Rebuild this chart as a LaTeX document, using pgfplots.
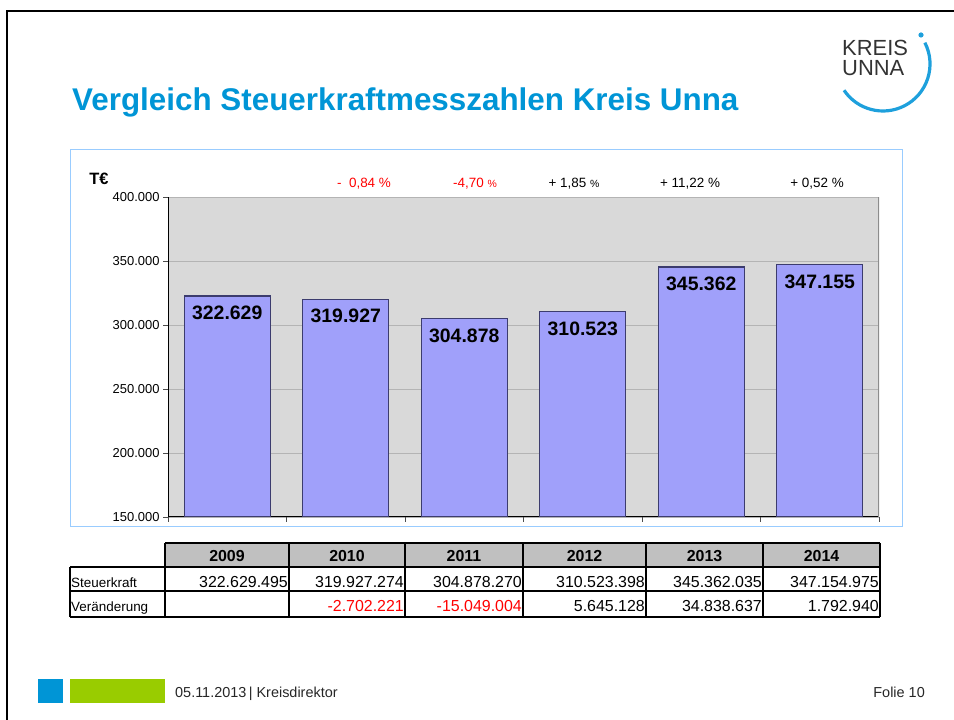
\documentclass[border=0pt]{standalone}
\usepackage{fontspec}
\setmainfont{Liberation Sans}
\usepackage{pgfplots}
\pgfplotsset{compat=1.18}

\definecolor{titleblue}{RGB}{0,149,214}
\definecolor{logoblue}{RGB}{30,160,220}
\definecolor{frameblue}{RGB}{153,204,255}
\definecolor{plotbg}{RGB}{217,217,217}
\definecolor{gridgrey}{RGB}{180,180,180}
\definecolor{barfill}{RGB}{160,160,250}
\definecolor{baredge}{RGB}{60,60,110}
\definecolor{headgrey}{RGB}{192,192,192}
\definecolor{footgreen}{RGB}{153,204,0}
\definecolor{negred}{RGB}{255,0,0}
\newcommand{\fs}[1]{\fontsize{#1}{#1}\selectfont}

\begin{document}
\begin{tikzpicture}
\begin{scope}[x=1bp,y=1bp]
\path[use as bounding box] (0,0) rectangle (954,720);
% slide frame
\draw[line width=2bp] (7,0) -- (7,709) -- (954,709);
% title
\node[anchor=base west, inner sep=0, text=titleblue, font=\bfseries\fs{31.5}] at (72,609) {Vergleich Steuerkraftmesszahlen Kreis Unna};
% logo
\node[anchor=base west, inner sep=0, align=left, text=black!80, font=\fontsize{22}{21}\selectfont] at (842,644) {KREIS\\UNNA};
\draw[logoblue, line width=3.2bp] (883,656) ++(27:47) arc[start angle=27, end angle=-146, radius=47];
\fill[logoblue] (921,685) circle (2.6);
% chart area frame
\draw[frameblue, line width=1bp] (70,193) rectangle (902,570);
\node[font=\bfseries\fs{16.5}, inner sep=0] at (99,541) {T€};
% change labels
\node[font=\fs{13.5}, text=negred] at (364,536) {-\ \ 0,84 \%};
\node[font=\fs{13.5}, text=negred] at (475,536) {-4,70 {\fs{10.5}\%}};
\node[font=\fs{13.5}] at (574,536) {+ 1,85 {\fs{10.5}\%}};
\node[font=\fs{13.5}] at (690,536) {+ 11,22 \%};
\node[font=\fs{13.5}] at (817,536) {+ 0,52 \%};
% table
\fill[headgrey] (165,153) rectangle (880,177);
\draw[line width=1.1bp] (165,177) -- (880,177);
\draw[line width=1.1bp] (70,153) -- (880,153);
\draw[line width=1.1bp] (70,129) -- (880,129);
\draw[line width=1.1bp] (70,103) -- (880,103);
\draw[line width=1.1bp] (70,103) -- (70,153);
\foreach \xx in {165,289,405,523,646,763,880}
  \draw[line width=1.1bp] (\xx,103) -- (\xx,177);
\foreach \xx/\yr in {227/2009,347/2010,464/2011,584.5/2012,704.5/2013,821.5/2014}
  \node[font=\bfseries\fs{16}] at (\xx,164) {\yr};
\node[anchor=base west, inner sep=0, font=\fs{13.5}] at (71,132) {Steuerkraft};
\node[anchor=base west, inner sep=0, font=\fs{13.5}] at (71,108) {Veränderung};
\foreach \xx/\v in {289/322.629.495,405/319.927.274,523/304.878.270,646/310.523.398,763/345.362.035,880/347.154.975}
  \node[anchor=base east, inner sep=0, font=\fs{16}] at (\xx-1,132) {\v};
\foreach \xx/\v/\c in {405/-2.702.221/negred,523/-15.049.004/negred,646/5.645.128/black,763/34.838.637/black,880/1.792.940/black}
  \node[anchor=base east, inner sep=0, font=\fs{16}, text=\c] at (\xx-1,108) {\v};
% footer
\fill[titleblue] (38,17) rectangle (63,41);
\fill[footgreen] (70,17) rectangle (165,41);
\node[anchor=base west, inner sep=0, font=\fs{14.5}, text=black!85] at (175,22) {05.11.2013\,|\ Kreisdirektor};
\node[anchor=base east, inner sep=0, font=\fs{14.5}, text=black!85] at (925,22) {Folie 10};
\end{scope}

\begin{axis}[
    at={(168bp,203bp)}, anchor=south west,
    width=711bp, height=320bp, scale only axis,
    xmin=-0.5, xmax=5.5,
    ymin=150000, ymax=400000,
    xtick={-0.5,0.5,1.5,2.5,3.5,4.5,5.5}, xticklabels={},
    ytick={150000,200000,250000,300000,350000,400000},
    scaled y ticks=false,
    axis x line*=bottom, axis y line*=left,
    axis line style={black, line width=1bp},
    tick align=outside, major tick length=5bp,
    tick style={black!70, line width=0.8bp},
    ymajorgrids, grid style={gridgrey, line width=0.8bp},
    axis background/.style={fill=plotbg},
    y tick label style={font=\fs{13}},
    ybar, bar width=86bp,
    nodes near coords,
    every node near coord/.append style={anchor=north, yshift=-6bp, font=\bfseries\fs{19.5}},
    /pgf/number format/fixed,
    /pgf/number format/1000 sep={.},
    /pgf/number format/assume math mode=true,
]
\addplot[fill=barfill, draw=baredge, line width=1.2bp] coordinates {
    (0,322629) (1,319927) (2,304878) (3,310523) (4,345362) (5,347155)
};
\draw[black!45, line width=1.2bp] (rel axis cs:1,0) -- (rel axis cs:1,1);
\end{axis}
\end{tikzpicture}
\end{document}
